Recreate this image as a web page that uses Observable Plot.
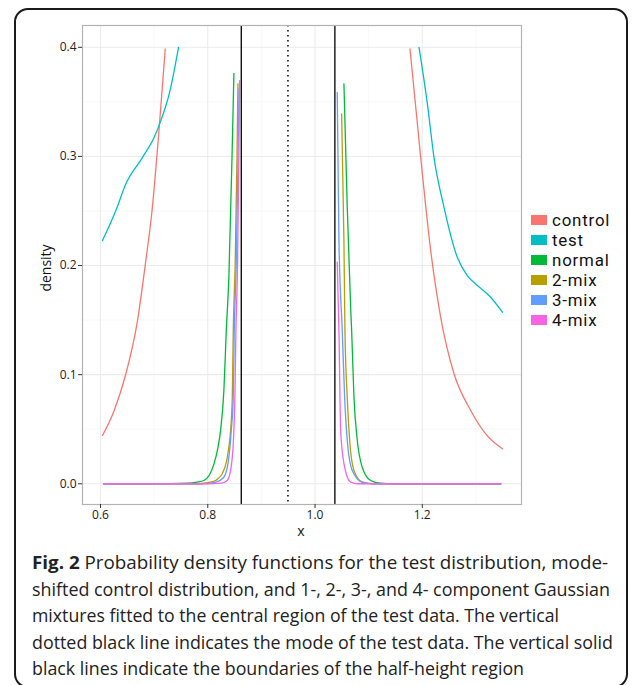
<!DOCTYPE html>
<html><head><meta charset="utf-8">
<script src="https://cdn.jsdelivr.net/npm/d3@7"></script>
<script src="https://cdn.jsdelivr.net/npm/@observablehq/plot@0.6"></script>
<style>
body{margin:0;background:#fff;width:633px;height:685px;overflow:hidden;position:relative;font-family:"Open Sans",sans-serif;}
#box{position:absolute;left:14px;top:8px;width:614px;height:680px;border:2px solid #1a1a1a;border-radius:14px;box-sizing:border-box;}
#chart{position:absolute;left:0;top:0;}
#legend{position:absolute;left:531px;top:210px;font-family:Roboto,sans-serif;font-size:16.9px;letter-spacing:0.8px;color:#111;}
#legend .row{display:flex;align-items:center;height:20px;line-height:18px;}
#legend .key{width:16px;height:10px;margin-right:5px;}
#legend .lab{display:inline-block;height:18px;line-height:18px;}
#ylab{position:absolute;left:45px;top:268px;transform:translate(-50%,-50%) rotate(-90deg);font-size:14px;color:#111;}
#xlab{position:absolute;left:301px;top:530px;transform:translate(-50%,-50%);font-size:14px;color:#111;}
#caption{position:absolute;left:32px;top:549px;font-size:18px;line-height:26.6px;color:#222;white-space:nowrap;}
#caption div{transform-origin:0 50%;width:max-content;}
</style></head>
<body>
<div id="box"></div>
<div id="chart"></div>
<div id="legend"></div>
<div id="ylab">density</div>
<div id="xlab">x</div>
<div id="caption"></div>
<script>
const seriesNames = ["control", "test", "normal", "2-mix", "3-mix", "4-mix"];
const seriesColors = ["#F8766D", "#00BFC4", "#00BA38", "#B79F00", "#619CFF", "#F564E3"];

const controlLeft = [[0.6037,0.0443],[0.6255,0.0672],[0.6473,0.1008],[0.669,0.1496],[0.6845,0.2046],[0.6960,0.25],[0.7095,0.3267],[0.7207,0.3985]];
const controlRight = [[1.1771,0.3985],[1.197,0.2992],[1.2157,0.2137],[1.2343,0.1526],[1.2592,0.1008],[1.2903,0.0672],[1.3183,0.0458],[1.3494,0.032]];
const testLeft = [[0.6037,0.2229],[0.6286,0.2504],[0.6473,0.2749],[0.6784,0.2992],[0.7001,0.3176],[0.7125,0.3328],[0.7281,0.3573],[0.7455,0.4]];
const testRight = [[1.1939,0.4],[1.2095,0.3481],[1.2218,0.2992],[1.2405,0.2534],[1.2653,0.2076],[1.2841,0.1908],[1.3028,0.1817],[1.3245,0.1725],[1.3494,0.1572]];
const normalLeft = [[0.606,0],[0.70,0],[0.76,0.0005],[0.78,0.0015],[0.7927,0.003],[0.803,0.008],[0.8114,0.018],[0.8185,0.032],[0.8239,0.049],[0.83,0.085],[0.8345,0.14],[0.8394,0.19],[0.8457,0.31],[0.8487,0.376]];
const normalRight = [[1.0539,0.3665],[1.0601,0.2534],[1.0664,0.1618],[1.0683,0.14],[1.0726,0.0793],[1.0788,0.0397],[1.088,0.0152],[1.1037,0.003],[1.122,0.0005],[1.15,0],[1.3463,0]];
const mix2Left = [[0.606,0],[0.78,0],[0.81,0.002],[0.82,0.005],[0.8269,0.0092],[0.8375,0.0275],[0.8425,0.0488],[0.8457,0.0793],[0.8475,0.14],[0.851,0.2],[0.8545,0.3],[0.8562,0.3665]];
const mix2Right = [[1.0496,0.339],[1.0539,0.2229],[1.0558,0.14],[1.0601,0.0793],[1.0646,0.0397],[1.0726,0.0122],[1.088,0.0015],[1.11,0],[1.3463,0]];
const mix3Left = [[0.606,0],[0.79,0],[0.815,0.0015],[0.83,0.006],[0.8394,0.0244],[0.8438,0.0488],[0.8475,0.0793],[0.8494,0.14],[0.853,0.2],[0.8565,0.3],[0.8585,0.362]];
const mix3Right = [[1.0414,0.3588],[1.0446,0.2229],[1.0508,0.14],[1.0552,0.0793],[1.0601,0.0397],[1.0694,0.0122],[1.088,0.0015],[1.11,0],[1.3463,0]];
const mix4Left = [[0.606,0],[0.80,0],[0.825,0.0005],[0.8363,0.003],[0.8444,0.0183],[0.8487,0.0488],[0.8506,0.0793],[0.8525,0.14],[0.8555,0.2],[0.858,0.3],[0.8593,0.3695]];
const mix4Right = [[1.0414,0.203],[1.0446,0.14],[1.0478,0.0488],[1.054,0.0183],[1.0664,0.0015],[1.08,0],[1.3463,0]];

const solidLines = [0.8625, 1.037];
const modeLine = [0.9495];
const xTicks = [0.6, 0.8, 1.0, 1.2];
const xMinor = [0.7, 0.9, 1.1, 1.3];
const yTicks = [0.0, 0.1, 0.2, 0.3, 0.4];
const yMinor = [0.05, 0.15, 0.25, 0.35];

const segments = [
  ["control", "L", controlLeft], ["control", "R", controlRight],
  ["test", "L", testLeft], ["test", "R", testRight],
  ["normal", "L", normalLeft], ["normal", "R", normalRight],
  ["2-mix", "L", mix2Left], ["2-mix", "R", mix2Right],
  ["3-mix", "L", mix3Left], ["3-mix", "R", mix3Right],
  ["4-mix", "L", mix4Left], ["4-mix", "R", mix4Right]
];
const rows = [];
for (const [s, side, pts] of segments) for (const [x, y] of pts) rows.push({series: s, seg: s + side, x, y});

const chart = Plot.plot({
  width: 633, height: 545,
  marginLeft: 82, marginRight: 112, marginTop: 25, marginBottom: 41,
  style: {fontFamily: "'Open Sans', sans-serif", fontSize: "12px", color: "#222", background: "transparent"},
  x: {domain: [0.5664, 1.385], ticks: xTicks, tickFormat: d3.format(".1f"), tickSize: 4, tickPadding: 2, label: null},
  y: {domain: [-0.019, 0.42], ticks: yTicks, tickFormat: d3.format(".1f"), tickSize: 4, tickPadding: 2, label: null},
  color: {domain: seriesNames, range: seriesColors},
  marks: [
    Plot.ruleX(xMinor, {stroke: "#f4f4f4", strokeWidth: 0.6}),
    Plot.ruleY(yMinor, {stroke: "#f4f4f4", strokeWidth: 0.6}),
    Plot.ruleX(xTicks, {stroke: "#ebebeb", strokeWidth: 1.1}),
    Plot.ruleY(yTicks, {stroke: "#ebebeb", strokeWidth: 1.1}),
    Plot.line(rows, {x: "x", y: "y", z: "seg", stroke: "series", strokeWidth: 1.3, curve: "monotone-x"}),
    Plot.ruleX(solidLines, {stroke: "#111", strokeWidth: 1.4}),
    Plot.ruleX(modeLine, {stroke: "#000", strokeWidth: 1.5, strokeDasharray: "1.5,3.5"}),
    Plot.frame({stroke: "#b3b3b3", strokeWidth: 1.2}),
    Plot.axisX({ticks: xTicks, tickFormat: d3.format(".1f"), tickSize: 4, tickPadding: 2, label: null, stroke: "#333"}),
    Plot.axisY({ticks: yTicks, tickFormat: d3.format(".1f"), tickSize: 4, tickPadding: 2, label: null, stroke: "#333"})
  ]
});
document.getElementById("chart").appendChild(chart);

const legend = document.getElementById("legend");
seriesNames.forEach((n, i) => {
  const r = document.createElement("div"); r.className = "row";
  const k = document.createElement("span"); k.className = "key"; k.style.background = seriesColors[i];
  const t = document.createElement("span"); t.className = "lab"; t.textContent = n;
  r.appendChild(k); r.appendChild(t); legend.appendChild(r);
});

const captionLines = [
  "Probability density functions for the test distribution, mode-",
  "shifted control distribution, and 1-, 2-, 3-, and 4- component Gaussian",
  "mixtures fitted to the central region of the test data. The vertical",
  "dotted black line indicates the mode of the test data. The vertical solid",
  "black lines indicate the boundaries of the half-height region"
];
const captionWidths = [576, 578, 527, 581, 492];
const cap = document.getElementById("caption");
captionLines.forEach((l, i) => {
  const d = document.createElement("div");
  if (i === 0) { const b = document.createElement("b"); b.textContent = "Fig. 2 "; d.appendChild(b); d.appendChild(document.createTextNode(l)); }
  else d.textContent = l;
  cap.appendChild(d);
  const w = d.getBoundingClientRect().width;
  d.style.transform = `scaleX(${captionWidths[i] / w})`;
});
</script>
</body></html>
